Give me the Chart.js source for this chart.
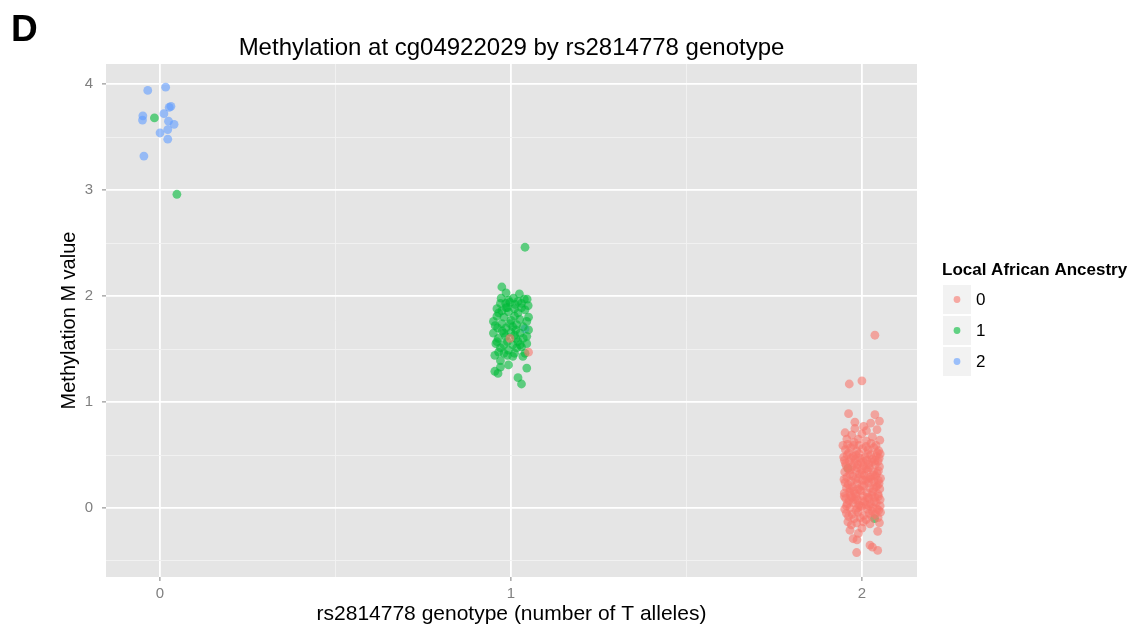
<!DOCTYPE html>
<html>
<head>
<meta charset="utf-8">
<title>Methylation at cg04922029 by rs2814778 genotype</title>
<script src="https://cdn.jsdelivr.net/npm/chart.js@4.4.1/dist/chart.umd.min.js"></script>
<style>
  html, body { margin: 0; padding: 0; background: #FFFFFF; }
  #plot { display: block; }
</style>
</head>
<body>
<canvas id="plot" width="1136" height="629"></canvas>
<script>

// genotype positions on x, tick labels shown under them
const genotypeTicks = [0, 1, 2];
const genotypeLabels = ["0", "1", "2"];
const methylationTicks = [0, 1, 2, 3, 4];

// legend levels and colours (ggplot hue palette)
const ancestryLevels = ["0", "1", "2"];
const ancestryColors = ["rgba(248,118,109,0.6)", "rgba(0,186,56,0.6)", "rgba(97,156,255,0.6)"];

// [jittered genotype, M value] per sample, split by local African ancestry
const ancestry0 = [
    [2.037, 1.63], [1.964, 1.17], [2.000, 1.20], [1.962, 0.89], [2.037, 0.88], [2.050, 0.82],
    [1.980, 0.81], [2.025, 0.80], [2.005, 0.77], [1.952, 0.71], [1.980, 0.75], [2.013, 0.73],
    [2.043, 0.74], [1.971, 0.69], [2.000, 0.70], [2.030, 0.67], [1.957, 0.65], [1.990, 0.65],
    [2.051, 0.64], [2.013, 0.63], [1.946, 0.59], [1.976, 0.59], [2.040, 0.59],
    [1.978, 0.62], [2.012, 0.58], [2.044, 0.52], [1.962, 0.52], [1.995, 0.47], [2.028, 0.43],
    [1.979, 0.42], [2.011, 0.37], [2.043, 0.33], [1.960, 0.37], [1.993, 0.32], [2.027, 0.27],
    [2.011, 0.26], [2.044, 0.21], [1.961, 0.22], [1.994, 0.17], [1.977, 0.16], [2.028, 0.12],
    [1.963, 0.07], [1.978, 0.08], [2.012, 0.03], [1.996, 0.02], [2.029, -0.03], [2.043, -0.01],
    [1.953, 0.55], [1.968, 0.57], [1.985, 0.54], [2.002, 0.56], [2.018, 0.55], [2.034, 0.57], [2.048, 0.54],
    [1.958, 0.50], [1.975, 0.49], [1.992, 0.51], [2.009, 0.48], [2.025, 0.50], [2.041, 0.49], [2.052, 0.51],
    [1.950, 0.45], [1.964, 0.44], [1.981, 0.46], [1.997, 0.43], [2.014, 0.45], [2.030, 0.46], [2.046, 0.44],
    [1.955, 0.40], [1.972, 0.39], [1.988, 0.41], [2.005, 0.40], [2.021, 0.38], [2.038, 0.41], [2.050, 0.39],
    [1.951, 0.34], [1.967, 0.36], [1.983, 0.35], [2.000, 0.33], [2.016, 0.36], [2.033, 0.34], [2.047, 0.35],
    [1.957, 0.29], [1.974, 0.30], [1.990, 0.28], [2.007, 0.31], [2.023, 0.29], [2.039, 0.30], [2.053, 0.28],
    [1.952, 0.24], [1.969, 0.25], [1.986, 0.23], [2.002, 0.26], [2.019, 0.24], [2.035, 0.25], [2.049, 0.23],
    [1.956, 0.19], [1.973, 0.20], [1.989, 0.18], [2.006, 0.21], [2.022, 0.19], [2.040, 0.20], [2.051, 0.18],
    [1.950, 0.14], [1.965, 0.15], [1.982, 0.13], [1.998, 0.16], [2.015, 0.14], [2.031, 0.15], [2.046, 0.13],
    [1.954, 0.09], [1.971, 0.10], [1.987, 0.08], [2.004, 0.11], [2.020, 0.09], [2.037, 0.10], [2.052, 0.08],
    [1.958, 0.04], [1.975, 0.05], [1.991, 0.03], [2.008, 0.06], [2.024, 0.04], [2.041, 0.05],
    [1.951, -0.01], [1.966, 0.00], [1.983, -0.02], [1.999, 0.01], [2.016, -0.01], [2.032, 0.00], [2.048, -0.02],
    [1.956, -0.05], [1.972, -0.06], [1.989, -0.04], [2.005, -0.07], [2.021, -0.05], [2.038, -0.06], [2.053, -0.04],
    [1.959, 0.60], [1.992, 0.59], [2.026, 0.61], [1.948, 0.48], [1.983, 0.50], [2.017, 0.51], [2.049, 0.47],
    [1.970, 0.47], [2.004, 0.44], [2.037, 0.45], [1.953, 0.42], [1.986, 0.38], [2.019, 0.41], [1.966, 0.32],
    [1.999, 0.36], [2.032, 0.31], [1.949, 0.27], [1.982, 0.27], [2.015, 0.28], [2.047, 0.26], [1.966, 0.18],
    [2.000, 0.21], [2.033, 0.18], [1.950, 0.11], [1.983, 0.11], [2.016, 0.10], [2.047, 0.11], [1.968, 0.12],
    [2.001, 0.07], [2.035, 0.06], [1.956, 0.02], [1.988, 0.00], [2.020, 0.02], [2.052, 0.02], [1.962, -0.08],
    [1.995, -0.09], [2.028, -0.08], [2.046, -0.09], [1.978, -0.10], [2.012, -0.11],
    [1.960, -0.13], [1.970, -0.16], [1.985, -0.14], [2.004, -0.13], [2.023, -0.15], [2.050, -0.14],
    [2.045, -0.22], [1.966, -0.21], [2.000, -0.19], [1.990, -0.24], [1.975, -0.29], [1.986, -0.30],
    [2.023, -0.35], [2.030, -0.37], [2.045, -0.40], [1.985, -0.42],
    [0.997, 1.60], [1.050, 1.47]
];

const ancestry1 = [
    [-0.016, 3.68], [0.048, 2.96],
    [1.040, 2.46], [0.974, 2.085], [0.986, 2.03], [0.972, 1.98], [0.993, 1.96], [1.007, 1.98],
    [1.024, 2.02], [1.038, 1.97], [1.046, 1.97], [0.997, 1.94], [1.012, 1.92], [1.049, 1.91],
    [1.030, 1.89], [0.986, 1.89], [0.960, 1.88], [0.974, 1.86], [0.993, 1.85], [1.020, 1.84],
    [0.960, 1.81], [1.010, 1.81], [1.050, 1.80], [0.980, 1.80], [1.025, 1.78], [0.950, 1.76],
    [1.045, 1.76], [0.974, 1.74], [0.997, 1.74], [1.016, 1.73], [0.962, 1.70], [0.986, 1.70],
    [1.005, 1.71], [1.014, 1.68], [0.950, 1.65], [0.980, 1.65], [1.026, 1.65], [0.964, 1.60],
    [1.014, 1.60], [1.035, 1.60], [0.957, 1.55], [0.980, 1.54], [1.005, 1.54], [1.026, 1.54],
    [1.045, 1.55], [0.970, 1.51], [0.993, 1.49], [1.016, 1.51], [0.954, 1.44], [1.034, 1.43],
    [0.970, 1.39], [0.990, 1.44], [1.005, 1.43], [0.993, 1.35], [0.970, 1.33], [1.045, 1.32],
    [0.954, 1.29], [0.963, 1.27], [1.020, 1.23], [1.030, 1.17],
    [0.985, 1.93], [1.020, 1.95], [1.040, 1.87], [0.965, 1.84], [1.000, 1.77], [1.035, 1.71],
    [0.975, 1.67], [1.010, 1.63], [1.045, 1.62], [0.960, 1.57], [0.990, 1.57], [1.020, 1.57],
    [1.000, 1.66], [0.985, 1.62], [1.030, 1.52], [0.965, 1.47], [1.040, 1.46], [0.980, 1.46],
    [1.010, 1.46], [0.955, 1.72], [1.050, 1.68], [0.990, 1.89], [1.010, 1.88], [0.970, 1.93],
    [1.030, 1.93],
    [1.960, 0.375], [2.036, -0.10]
];

const ancestry2 = [
    [-0.035, 3.94], [0.016, 3.97], [-0.049, 3.70], [-0.050, 3.66], [0.011, 3.72], [0.026, 3.78],
    [0.031, 3.79], [0.024, 3.65], [0.040, 3.62], [0.022, 3.57], [0.000, 3.54], [0.022, 3.48],
    [-0.046, 3.32],
    [1.040, 1.69]
];

const seriesValues = [ancestry0, ancestry1, ancestry2];

// x grid: majors at genotypes, minors half way between
const xGridValues = [0, 0.5, 1, 1.5, 2];
const yGridValues = [-0.5, 0, 0.5, 1, 1.5, 2, 2.5, 3, 3.5, 4];

const FONT = '"Liberation Sans", Arial, Helvetica, sans-serif';
Chart.defaults.font.family = FONT;

function isMajor(list, v) {
    return list.indexOf(v) !== -1;
}

// grey panel behind the grid, plus panel tag, title and legend
const panelPlugin = {
    id: "panel",
    beforeDraw: function (chart) {
        const ctx = chart.ctx;
        const a = chart.chartArea;
        ctx.save();
        ctx.fillStyle = "#FFFFFF";
        ctx.fillRect(0, 0, chart.width, chart.height);
        ctx.fillStyle = "#E5E5E5";
        ctx.fillRect(a.left, a.top, a.right - a.left, a.bottom - a.top);
        ctx.restore();
    },
    afterDraw: function (chart) {
        const ctx = chart.ctx;
        const a = chart.chartArea;
        ctx.save();
        ctx.fillStyle = "#000000";
        ctx.textBaseline = "middle";

        ctx.font = "bold 37px " + FONT;
        ctx.textAlign = "left";
        ctx.fillText("D", 11, 31);

        ctx.font = "24px " + FONT;
        ctx.textAlign = "center";
        ctx.fillText("Methylation at cg04922029 by rs2814778 genotype", (a.left + a.right) / 2, 48);

        // legend
        const lx = 942;
        ctx.textAlign = "left";
        ctx.font = "bold 17px " + FONT;
        ctx.fillText("Local African Ancestry", lx, 270);
        ctx.font = "17px " + FONT;
        for (let i = 0; i < ancestryLevels.length; i++) {
            const top = 285 + i * 31;
            ctx.fillStyle = "#F2F2F2";
            ctx.fillRect(lx + 1, top, 28, 29);
            ctx.fillStyle = ancestryColors[i];
            ctx.beginPath();
            ctx.arc(lx + 15, top + 14.5, 3.4, 0, Math.PI * 2);
            ctx.fill();
            ctx.fillStyle = "#000000";
            ctx.fillText(ancestryLevels[i], lx + 34, top + 15);
        }
        ctx.restore();
    }
};

function buildDatasets() {
    return seriesValues.map(function (values, i) {
        return {
            label: ancestryLevels[i],
            data: values.map(function (p) { return { x: p[0], y: p[1] }; }),
            backgroundColor: ancestryColors[i],
            borderWidth: 0,
            pointRadius: 4.4,
            pointHoverRadius: 4.4
        };
    });
}

const ctx = document.getElementById("plot").getContext("2d");
const chart = new Chart(ctx, {
    type: "scatter",
    data: { datasets: buildDatasets() },
    options: {
        responsive: false,
        animation: false,
        events: [],
        layout: { padding: { top: 64, right: 219, bottom: 0, left: 57 } },
        plugins: {
            legend: { display: false },
            tooltip: { enabled: false },
            title: { display: false }
        },
        scales: {
            x: {
                type: "linear",
                min: -0.154,
                max: 2.157,
                afterBuildTicks: function (scale) {
                    scale.ticks = xGridValues.map(function (v) { return { value: v }; });
                },
                afterFit: function (scale) { scale.height = 52; },
                border: { display: false },
                grid: {
                    color: function (c) { return isMajor(genotypeTicks, c.tick.value) ? "#FFFFFF" : "#F2F2F2"; },
                    lineWidth: function (c) { return isMajor(genotypeTicks, c.tick.value) ? 1.8 : 0.9; },
                    tickColor: function (c) { return isMajor(genotypeTicks, c.tick.value) ? "#7F7F7F" : "rgba(0,0,0,0)"; },
                    tickWidth: 1,
                    tickLength: 4
                },
                ticks: {
                    color: "#7F7F7F",
                    font: { size: 15 },
                    padding: 4,
                    autoSkip: false,
                    maxRotation: 0,
                    callback: function (v) {
                        const k = genotypeTicks.indexOf(v);
                        return k === -1 ? "" : genotypeLabels[k];
                    }
                },
                title: {
                    display: true,
                    text: "rs2814778 genotype (number of T alleles)",
                    color: "#000000",
                    font: { size: 21 },
                    padding: { top: 0, bottom: 2 }
                }
            },
            y: {
                type: "linear",
                min: -0.651,
                max: 4.189,
                afterBuildTicks: function (scale) {
                    scale.ticks = yGridValues.map(function (v) { return { value: v }; });
                },
                afterFit: function (scale) { scale.width = 49; },
                border: { display: false },
                grid: {
                    color: function (c) { return isMajor(methylationTicks, c.tick.value) ? "#FFFFFF" : "#F2F2F2"; },
                    lineWidth: function (c) { return isMajor(methylationTicks, c.tick.value) ? 1.8 : 0.9; },
                    tickColor: function (c) { return isMajor(methylationTicks, c.tick.value) ? "#7F7F7F" : "rgba(0,0,0,0)"; },
                    tickWidth: 1,
                    tickLength: 4
                },
                ticks: {
                    color: "#7F7F7F",
                    font: { size: 15 },
                    padding: 9,
                    autoSkip: false,
                    callback: function (v) {
                        return isMajor(methylationTicks, v) ? String(v) : "";
                    }
                },
                title: {
                    display: true,
                    text: "Methylation M value",
                    color: "#000000",
                    font: { size: 20 },
                    padding: { top: 0, bottom: 0 }
                }
            }
        }
    },
    plugins: [panelPlugin]
});
</script>
</body>
</html>
